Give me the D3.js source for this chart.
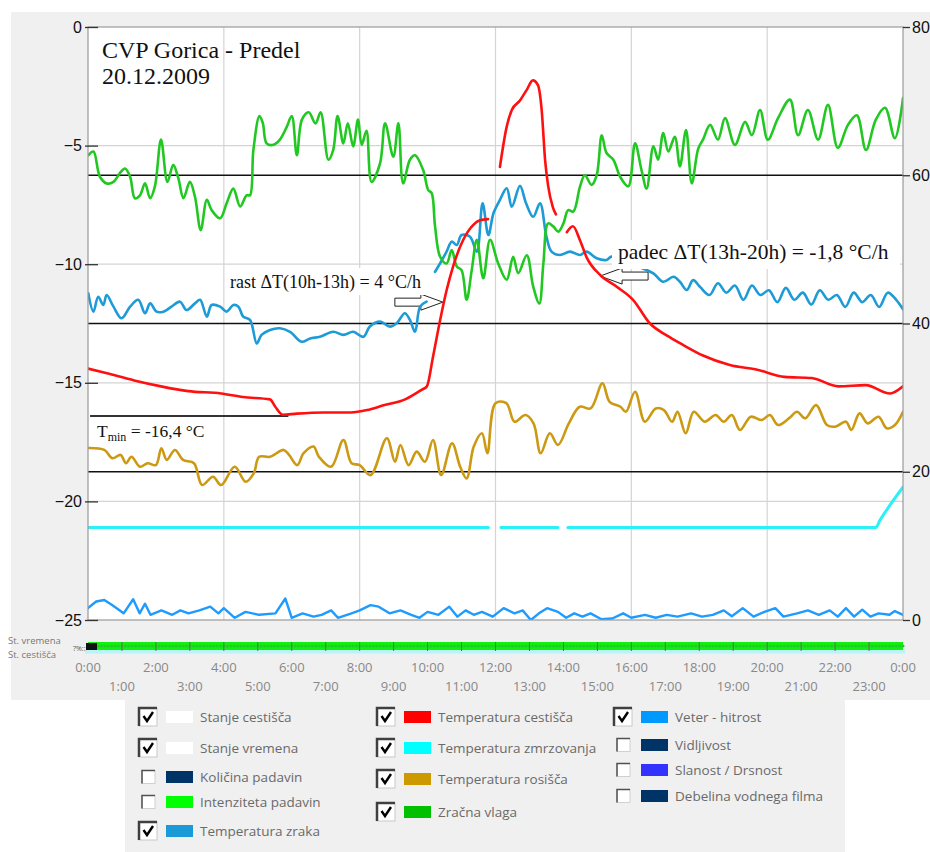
<!DOCTYPE html>
<html>
<head>
<meta charset="utf-8">
<script src="https://cdn.jsdelivr.net/npm/d3@7"></script>
<style>
body { margin: 0; background: #fff; }
svg { display: block; }
</style>
</head>
<body>
<svg id="chart" width="930" height="852"></svg>
<script>
// ---- data (hours since midnight, value) ----
// road temperature, °C (left axis); null = gap in the record
var roadTemp = [[0,-14.4],[0.56,-14.6],[1.36,-14.9],[2.15,-15.15],[2.95,-15.35],[3.92,-15.45],[4.56,-15.6],[5.36,-15.7],[5.51,-16.0],[5.74,-16.35],[6.15,-16.3],[6.95,-16.25],[7.74,-16.25],[8.22,-16.15],[8.7,-15.95],[9.34,-15.7],[9.82,-15.3],[9.98,-15.15],[10.16,-13.9],[10.37,-12.35],[10.56,-11.1],[10.75,-10.1],[11.04,-9.0],[11.34,-8.35],[11.54,-8.15],[11.78,-8.1],null,[12.13,-5.9],[12.33,-4.2],[12.48,-3.5],[12.72,-3.1],[12.92,-2.65],[13.1,-2.25],[13.25,-2.45],[13.36,-3.5],[13.46,-5.6],[13.55,-6.7],[13.69,-7.6],[13.78,-7.9],null,[14.1,-8.65],[14.28,-8.4],[14.49,-9.0],[14.68,-9.7],[15.08,-10.45],[15.57,-10.95],[16.05,-11.5],[16.55,-12.5],[17.04,-13.0],[17.52,-13.4],[18.11,-13.85],[18.9,-14.25],[19.71,-14.45],[20.51,-14.75],[21.31,-14.8],[22.1,-15.15],[22.9,-15.1],[23.62,-15.45],[24,-15.15]];

// air temperature, °C (left axis)
var airTemp = [[0.01,-11.23],[0.16,-12.0],[0.3,-11.37],[0.45,-11.72],[0.55,-11.3],[0.75,-11.79],[0.99,-12.28],[1.24,-11.79],[1.48,-11.5],[1.68,-12.07],[1.83,-11.65],[2.02,-12.0],[2.22,-12.0],[2.46,-11.79],[2.71,-11.58],[2.9,-11.93],[3.15,-11.65],[3.3,-11.5],[3.5,-12.21],[3.64,-11.72],[3.89,-11.79],[4.08,-12.0],[4.28,-11.72],[4.43,-11.79],[4.57,-12.21],[4.77,-12.35],[4.97,-13.34],[5.11,-12.98],[5.36,-12.77],[5.65,-12.7],[5.95,-12.85],[6.29,-13.27],[6.54,-13.13],[6.83,-13.06],[7.22,-12.85],[7.52,-12.98],[7.81,-12.85],[8.11,-13.06],[8.3,-12.63],[8.6,-12.42],[8.89,-12.63],[9.09,-12.49],[9.33,-12.07],[9.48,-12.35],[9.63,-12.85],[9.78,-11.79],[9.97,-11.58],null,[10.22,-10.32],[10.37,-9.96],[10.56,-9.47],[10.71,-9.05],[10.86,-9.19],[11.0,-8.77],[11.25,-8.84],[11.45,-9.47],[11.62,-7.43],[11.79,-8.77],[11.94,-7.85],[12.13,-7.29],[12.33,-6.8],[12.48,-7.58],[12.72,-6.7],[12.9,-7.43],[13.11,-8.0],[13.31,-7.43],[13.5,-8.84],[13.65,-9.47],[13.9,-9.61],[14.19,-9.47],[14.49,-9.61],[14.68,-9.47],[14.98,-9.75],[15.27,-9.82],[15.42,-9.68],[15.8,-9.9],[16.2,-10.1],[16.65,-10.39],[16.94,-10.74],[17.24,-10.53],[17.43,-10.74],[17.63,-11.09],[17.82,-10.67],[18.02,-10.95],[18.3,-11.3],[18.55,-10.8],[18.8,-11.2],[19.05,-10.9],[19.3,-11.5],[19.55,-10.9],[19.8,-11.3],[20.05,-11.1],[20.3,-11.6],[20.55,-11.0],[20.8,-11.5],[21.05,-11.2],[21.3,-11.7],[21.55,-11.1],[21.8,-11.5],[22.05,-11.3],[22.3,-11.8],[22.55,-11.2],[22.8,-11.6],[23.05,-11.3],[23.3,-11.8],[23.55,-11.2],[23.8,-11.5],[24,-11.9]];

// freezing temperature, °C (left axis)
var freezeTemp = [[0,-21.1],[11.79,-21.1],null,[12.16,-21.1],[13.84,-21.1],null,[14.13,-21.1],[23.2,-21.1],[23.32,-20.8],[23.62,-20.15],[24,-19.4]];

// dew point, °C (left axis)
var dewPoint = [[0,-17.75],[0.48,-17.83],[0.72,-18.18],[0.96,-18.04],[1.12,-18.39],[1.28,-18.12],[1.53,-18.54],[1.76,-18.39],[2.0,-18.47],[2.16,-17.76],[2.32,-18.25],[2.56,-17.83],[2.8,-18.25],[3.12,-18.39],[3.36,-19.31],[3.68,-18.96],[3.92,-19.31],[4.32,-18.54],[4.64,-19.17],[4.88,-18.82],[5.04,-18.12],[5.36,-18.12],[5.76,-17.83],[5.92,-18.04],[6.16,-18.47],[6.35,-17.97],[6.64,-17.69],[6.8,-18.12],[7.16,-18.54],[7.52,-17.41],[7.76,-18.39],[8.0,-18.47],[8.32,-18.89],[8.8,-17.34],[9.04,-18.33],[9.2,-17.62],[9.44,-18.47],[9.68,-17.9],[9.92,-18.33],[10.16,-17.41],[10.4,-18.89],[10.72,-17.55],[10.96,-18.54],[11.15,-19.03],[11.36,-17.69],[11.6,-17.13],[11.76,-17.97],[12.0,-15.86],[12.32,-15.86],[12.56,-16.64],[12.88,-16.36],[13.12,-16.71],[13.33,-17.97],[13.6,-17.13],[13.84,-17.62],[14.16,-16.71],[14.48,-16.01],[14.8,-16.08],[15.15,-15.02],[15.36,-15.8],[15.68,-16.01],[15.84,-16.22],[16.11,-15.38],[16.4,-16.64],[16.72,-16.08],[16.96,-16.15],[17.2,-16.64],[17.36,-16.22],[17.6,-17.13],[17.84,-16.22],[18.16,-16.64],[18.48,-16.36],[18.72,-16.64],[18.96,-16.36],[19.2,-16.99],[19.52,-16.43],[19.84,-16.57],[20.08,-16.36],[20.32,-16.78],[20.64,-16.5],[20.88,-16.22],[21.12,-16.5],[21.44,-15.94],[21.76,-16.78],[22.0,-16.85],[22.32,-16.64],[22.48,-16.99],[22.72,-16.29],[22.96,-16.71],[23.28,-16.43],[23.52,-16.92],[23.76,-16.78],[24,-16.22]];

// relative humidity, % (right axis)
var humidity = [[0.01,62.7],[0.16,63.2],[0.35,59.8],[0.55,58.9],[0.75,59.1],[0.94,60.3],[1.09,60.9],[1.24,59.8],[1.38,56.9],[1.53,57.3],[1.68,58.9],[1.83,56.9],[1.97,58.5],[2.15,64.8],[2.34,59.1],[2.51,61.4],[2.66,59.6],[2.81,56.9],[3.0,59.1],[3.15,57.1],[3.32,52.6],[3.5,56.7],[3.64,55.3],[3.89,54.2],[4.08,56.2],[4.28,58.2],[4.48,55.8],[4.67,57.3],[4.77,57.3],[4.87,63.4],[5.05,68],[5.15,67],[5.26,64.3],[5.46,64.1],[5.65,64.8],[5.85,66.5],[6.0,68],[6.15,62.7],[6.3,67.5],[6.5,68.5],[6.7,67],[6.85,68.5],[7.08,62.1],[7.22,63.4],[7.35,68],[7.52,64.3],[7.65,67],[7.81,63.9],[7.95,67.5],[8.06,64.1],[8.2,66],[8.35,59.1],[8.6,61.6],[8.75,67],[8.99,62.5],[9.14,67],[9.28,58.9],[9.48,62.1],[9.63,62.7],[9.87,60.7],[10.02,58.0],[10.12,57.6],[10.22,53.1],[10.37,49.0],[10.56,48.1],[10.71,49.9],[10.86,47.7],[11.0,47.2],[11.15,43.2],[11.3,47.2],[11.45,51.3],[11.64,46.1],[11.84,51.3],[12.08,48.1],[12.33,45.9],[12.52,49.0],[12.67,46.8],[12.92,49.2],[13.11,45.0],[13.29,42.7],[13.41,48.1],[13.55,53.5],[13.7,53.1],[13.85,52.4],[14.0,53.5],[14.14,55.3],[14.29,55.1],[14.49,58.5],[14.63,60.0],[14.83,58.7],[14.98,60.0],[15.13,65.4],[15.27,63.0],[15.47,62.1],[15.67,59.8],[15.91,58.5],[16.11,64.3],[16.3,60.7],[16.45,58.2],[16.65,63.9],[16.79,62.1],[16.94,65.7],[17.09,63.2],[17.28,65.2],[17.43,61.2],[17.61,66.1],[17.78,58.9],[17.97,63.6],[18.11,64.8],[18.32,66.8],[18.55,64.8],[18.76,67.7],[19.05,64.1],[19.35,67.2],[19.55,65.4],[19.79,68.8],[20.02,64.8],[20.32,67.7],[20.67,70.2],[20.91,65.4],[21.2,68.8],[21.5,64.8],[21.79,69.5],[22.08,63.7],[22.38,66.8],[22.64,68.1],[22.91,63.4],[23.2,67.5],[23.47,69.1],[23.76,65],[24,70.4]];

// wind speed (right axis)
var windSpeed = [[0,1.6],[0.24,2.5],[0.48,2.7],[0.72,2.0],[1.05,0.9],[1.33,2.8],[1.52,0.9],[1.68,2.2],[1.84,0.7],[2.16,1.3],[2.48,0.7],[2.72,1.3],[2.96,0.9],[3.28,1.3],[3.6,1.8],[3.84,0.9],[4.0,1.6],[4.32,0.3],[4.64,1.1],[5.04,0.7],[5.52,0.9],[5.81,2.9],[6.0,0.3],[6.32,0.9],[6.64,0.45],[6.88,0.7],[7.16,1.3],[7.36,0.3],[7.76,0.9],[8.0,1.3],[8.32,2.0],[8.56,1.8],[8.88,0.9],[9.2,1.3],[9.52,0.7],[9.76,0.3],[10.0,1.1],[10.32,0.7],[10.64,1.8],[10.88,0.45],[11.12,1.3],[11.36,0.7],[11.6,1.1],[11.92,0.45],[12.24,1.6],[12.56,0.9],[12.8,1.3],[13.04,0],[13.28,0.9],[13.52,1.6],[13.84,1.1],[14.08,0.3],[14.32,0.9],[14.56,0.45],[14.8,0.9],[15.12,0.1],[15.44,0.2],[15.76,0.9],[16.0,0.3],[16.4,0.7],[16.72,0.3],[17.04,0.7],[17.36,0.45],[17.76,0.9],[18.08,0.45],[18.4,0.7],[18.72,1.3],[18.96,0.5],[19.28,1.6],[19.6,0.45],[19.92,1.1],[20.24,1.6],[20.48,0.45],[20.88,0.9],[21.2,1.3],[21.52,0.7],[21.84,1.3],[22.08,0.45],[22.32,1.6],[22.56,0.45],[22.8,1.4],[23.04,0.45],[23.28,0.9],[23.6,0.7],[23.76,1.2],[24,0.7]];

// axis ticks
var leftTicks = [0, -5, -10, -15, -20, -25];
var rightTicks = [80, 60, 40, 20, 0];
var evenHourLabels = ["0:00","2:00","4:00","6:00","8:00","10:00","12:00","14:00","16:00","18:00","20:00","22:00","0:00"];
var oddHourLabels = ["1:00","3:00","5:00","7:00","9:00","11:00","13:00","15:00","17:00","19:00","21:00","23:00"];

// legend
var legendLabels = ["Stanje cestišča","Stanje vremena","Količina padavin","Intenziteta padavin","Temperatura zraka","Temperatura cestišča","Temperatura zmrzovanja","Temperatura rosišča","Zračna vlaga","Veter - hitrost","Vidljivost","Slanost / Drsnost","Debelina vodnega filma"];
var legendColors = ["#ffffff","#ffffff","#003366","#00ff00","#1a9ad6","#ff0000","#00ffff","#cc9900","#00c000","#0099ff","#003366","#3333ff","#003366"];
var legendChecked = [true,true,false,false,true,true,true,true,true,true,false,false,false];

// ---- layout ----
var svg = d3.select("#chart");
var L = 88, R = 903, T = 27, B = 620;

var x = d3.scaleLinear().domain([0, 24]).range([L, R]);
var yL = d3.scaleLinear().domain([-25, 0]).range([B, T]);
var yR = d3.scaleLinear().domain([0, 80]).range([B, T]);

// grey window background
svg.append("rect").attr("x", 11).attr("y", 12).attr("width", 919).attr("height", 688).attr("fill", "#f0f0f0");
svg.append("rect").attr("x", 125).attr("y", 700).attr("width", 720).attr("height", 152).attr("fill", "#f0f0f0");

// plot area
svg.append("rect").attr("x", L).attr("y", T).attr("width", R - L).attr("height", B - T)
	.attr("fill", "#fff");

svg.append("clipPath").attr("id", "clip").append("rect")
	.attr("x", L).attr("y", T).attr("width", R - L).attr("height", B - T);

var grid = svg.append("g");
// light grid: left axis values and every 4 hours
grid.selectAll(".hg").data(leftTicks.slice(1, 5)).enter().append("line")
	.attr("x1", L).attr("x2", R).attr("y1", function(d) { return yL(d); }).attr("y2", function(d) { return yL(d); })
	.attr("stroke", "#d4d4d4").attr("stroke-width", 1.2);
grid.selectAll(".vg").data([4, 8, 12, 16, 20]).enter().append("line")
	.attr("y1", T).attr("y2", B).attr("x1", function(d) { return x(d); }).attr("x2", function(d) { return x(d); })
	.attr("stroke", "#d4d4d4").attr("stroke-width", 1.2);
// dark grid: right axis values
grid.selectAll(".rg").data([60, 40, 20]).enter().append("line")
	.attr("x1", L).attr("x2", R).attr("y1", function(d) { return yR(d); }).attr("y2", function(d) { return yR(d); })
	.attr("stroke", "#111").attr("stroke-width", 1.3);

// Tmin marker line
svg.append("line").attr("x1", x(0.06)).attr("x2", x(5.9)).attr("y1", yL(-16.4)).attr("y2", yL(-16.4))
	.attr("stroke", "#333").attr("stroke-width", 2);

// arrows (under the lines)
function arrowPath(tipX, tipY, dir) {
	// dir = 1 points right, -1 points left
	var p = [[0, 0], [-22, -8], [-22, -4], [-48, -4], [-48, 4], [-22, 4], [-22, 8]];
	return "M" + p.map(function(q) { return (tipX + dir * q[0]) + "," + (tipY + q[1]); }).join("L") + "Z";
}
svg.append("path").attr("d", arrowPath(x(10.45), yL(-11.6), 1))
	.attr("fill", "#fff").attr("stroke", "#222").attr("stroke-width", 1);
svg.append("path").attr("d", arrowPath(x(15.08), yL(-10.5), -1))
	.attr("fill", "#fff").attr("stroke", "#222").attr("stroke-width", 1);

// ---- series ----
var lines = svg.append("g").attr("clip-path", "url(#clip)");
function drawSeries(data, yScale, color, curve, width) {
	var line = d3.line()
		.defined(function(d) { return d !== null; })
		.x(function(d) { return x(d[0]); })
		.y(function(d) { return yScale(d[1]); })
		.curve(curve);
	lines.append("path").datum(data).attr("d", line)
		.attr("fill", "none").attr("stroke", color).attr("stroke-width", width || 2.6)
		.attr("stroke-linejoin", "round").attr("stroke-linecap", "round");
}
drawSeries(freezeTemp, yL, "#2af0f8", d3.curveMonotoneX, 3);
drawSeries(windSpeed, yR, "#1e9bff", d3.curveLinear, 2.4);
drawSeries(dewPoint, yL, "#cc9912", d3.curveCatmullRom.alpha(0.5));
drawSeries(airTemp, yL, "#1c9bd6", d3.curveCatmullRom.alpha(0.5));
drawSeries(humidity, yR, "#22c822", d3.curveCatmullRom.alpha(0.5));
drawSeries(roadTemp, yL, "#ff1010", d3.curveMonotoneX);

// plot frame
svg.append("rect").attr("x", L).attr("y", T).attr("width", R - L).attr("height", B - T)
	.attr("fill", "none").attr("stroke", "#9a9a9a").attr("stroke-width", 1.2);

// ---- annotations ----
var serif = "'Liberation Serif', 'Times New Roman', serif";
svg.append("text").attr("x", 102).attr("y", 58).text("CVP Gorica - Predel")
	.style("font-family", serif).style("font-size", "24px").attr("fill", "#111");
svg.append("text").attr("x", 102).attr("y", 84).text("20.12.2009")
	.style("font-family", serif).style("font-size", "24px").attr("fill", "#111");

svg.append("rect").attr("x", 226).attr("y", 268).attr("width", 202).attr("height", 27).attr("fill", "#fff");
svg.append("text").attr("x", 230).attr("y", 288).text("rast \u0394T(10h-13h) = 4 \u00b0C/h")
	.style("font-family", serif).style("font-size", "18px").attr("fill", "#111");

svg.append("rect").attr("x", 612).attr("y", 240).attr("width", 288).attr("height", 29).attr("fill", "#fff");
svg.append("text").attr("x", 618).attr("y", 259).text("padec \u0394T(13h-20h) = -1,8 \u00b0C/h")
	.style("font-family", serif).style("font-size", "21.5px").attr("fill", "#111");

var tmin = svg.append("text").attr("x", 97).attr("y", 437)
	.style("font-family", serif).style("font-size", "17.5px").attr("fill", "#111");
tmin.append("tspan").text("T");
tmin.append("tspan").attr("dy", 4).style("font-size", "12px").text("min");
tmin.append("tspan").attr("dy", -4).text(" = -16,4 \u00b0C");

// ---- axes ----
var axisFont = "'Liberation Sans', Arial, sans-serif";
var gl = svg.append("g").attr("transform", "translate(" + L + ",0)")
	.call(d3.axisLeft(yL).tickValues(leftTicks).tickFormat(d3.format("d")).tickSize(3).tickPadding(3));
gl.select(".domain").remove();
gl.selectAll(".tick line").attr("x1", 10).attr("stroke", "#333").attr("stroke-width", 1.3);
gl.selectAll(".tick text").style("font-family", axisFont).style("font-size", "16px").attr("fill", "#111");

var gr = svg.append("g").attr("transform", "translate(" + R + ",0)")
	.call(d3.axisRight(yR).tickValues(rightTicks).tickSize(7).tickPadding(2));
gr.select(".domain").remove();
gr.selectAll(".tick line").attr("stroke", "#333").attr("stroke-width", 1.3);
gr.selectAll(".tick text").style("font-family", axisFont).style("font-size", "16px").attr("fill", "#111");

// time labels
var timeFont = "'Open Sans', 'Noto Sans', sans-serif";
svg.selectAll(".teven").data(evenHourLabels).enter().append("text")
	.attr("x", function(d, i) { return x(i * 2); }).attr("y", 672)
	.attr("text-anchor", "middle").text(function(d) { return d; })
	.style("font-family", timeFont).style("font-size", "13px").attr("fill", "#888");
svg.selectAll(".todd").data(oddHourLabels).enter().append("text")
	.attr("x", function(d, i) { return x(i * 2 + 1); }).attr("y", 691)
	.attr("text-anchor", "middle").text(function(d) { return d; })
	.style("font-family", timeFont).style("font-size", "13px").attr("fill", "#888");

// ---- status strip ----
var strip = svg.append("g");
strip.append("rect").attr("x", L - 3).attr("y", 649).attr("width", R - L + 5).attr("height", 4.5).attr("fill", "#b8f4f8");
strip.append("rect").attr("x", L).attr("y", 642).attr("width", R - L).attr("height", 8).attr("fill", "#10f010");
strip.selectAll(".dot").data(d3.range(0, 24.01, 0.1)).enter().append("circle")
	.attr("cx", function(d) { return x(d); }).attr("cy", 646).attr("r", 1.6).attr("fill", "#22cc22");
strip.selectAll(".st").data(d3.range(1, 24)).enter().append("line")
	.attr("x1", function(d) { return x(d); }).attr("x2", function(d) { return x(d); })
	.attr("y1", 642).attr("y2", 651).attr("stroke", "#666").attr("stroke-width", 1);
strip.append("rect").attr("x", L - 2).attr("y", 643).attr("width", 11).attr("height", 7).attr("fill", "#111");
strip.append("text").attr("x", 8).attr("y", 644).text("St. vremena")
	.style("font-family", timeFont).style("font-size", "9.5px").attr("fill", "#777");
strip.append("text").attr("x", 8).attr("y", 658).text("St. cestišča")
	.style("font-family", timeFont).style("font-size", "9.5px").attr("fill", "#777");
strip.append("text").attr("x", 73).attr("y", 651).text("?%::")
	.style("font-family", timeFont).style("font-size", "7px").attr("fill", "#555");

// ---- legend ----
var legendCols = [{x: 139, rows: [717, 748, 777, 802, 831]},
	{x: 377, rows: [717, 748, 779, 812]},
	{x: 614, rows: [717, 745, 770, 796]}];
var legendPos = [];
legendCols.forEach(function(c) { c.rows.forEach(function(r) { legendPos.push([c.x, r]); }); });

var legend = svg.append("g").style("font-family", timeFont).style("font-size", "13.5px");
legendLabels.forEach(function(lbl, i) {
	var px = legendPos[i][0], py = legendPos[i][1];
	var g = legend.append("g");
	if (legendChecked[i]) {
		g.append("rect").attr("x", px).attr("y", py - 9).attr("width", 18).attr("height", 18).attr("fill", "#fff")
			.attr("stroke", "#c8c8c8").attr("stroke-width", 1);
		g.append("path").attr("d", "M" + px + "," + (py + 9) + "V" + (py - 9) + "H" + (px + 18))
			.attr("fill", "none").attr("stroke", "#404040").attr("stroke-width", 2.5);
		g.append("path").attr("d", "M" + (px + 4.5) + "," + (py - 1) + "L" + (px + 8) + "," + (py + 4) + "L" + (px + 14) + "," + (py - 5))
			.attr("fill", "none").attr("stroke", "#000").attr("stroke-width", 2.4);
	} else {
		g.append("rect").attr("x", px + 3).attr("y", py - 6.5).attr("width", 13).attr("height", 13).attr("fill", "#fff")
			.attr("stroke", "#d0d0d0").attr("stroke-width", 1);
		g.append("path").attr("d", "M" + (px + 3) + "," + (py + 6.5) + "V" + (py - 6.5) + "H" + (px + 16))
			.attr("fill", "none").attr("stroke", "#505050").attr("stroke-width", 1.5);
	}
	g.append("rect").attr("x", px + 27).attr("y", py - 6).attr("width", 27).attr("height", 12).attr("fill", legendColors[i]);
	g.append("text").attr("x", px + 61).attr("y", py + 5).text(lbl).attr("fill", "#6a6a6a");
});
</script>
</body>
</html>
